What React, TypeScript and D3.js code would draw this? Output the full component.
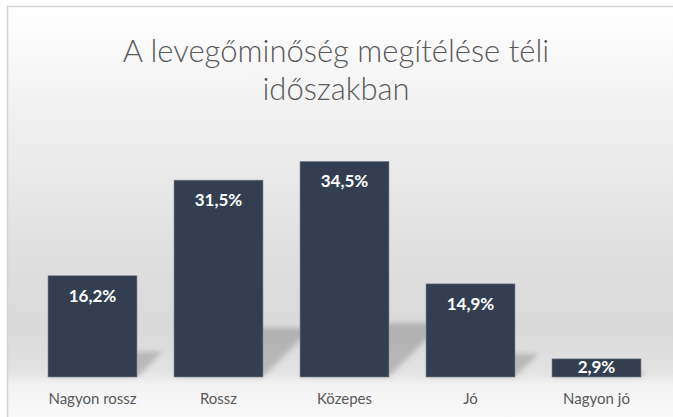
import React from "react";
import * as d3 from "d3";

const categories = ["Nagyon rossz", "Rossz", "Közepes", "Jó", "Nagyon jó"];
const values = [16.2, 31.5, 34.5, 14.9, 2.9];
const valueLabels = ["16,2%", "31,5%", "34,5%", "14,9%", "2,9%"];
const titleLines = ["A levegőminőség megítélése téli", "időszakban"];

const W = 673;
const H = 417;

export default function App() {
  const x = d3
    .scaleBand<string>()
    .domain(categories)
    .range([29.5, 659.5])
    .paddingInner(0.294)
    .paddingOuter(0.147);
  const y = d3.scaleLinear().domain([0, 40]).range([377, 127]);
  const base = y(0);
  const font = "Lato, 'Open Sans', sans-serif";

  return (
    <svg
      width={W}
      height={H}
      style={{ position: "absolute", left: 0, top: 0, display: "block" }}
    >
      <defs>
        <linearGradient id="bg" gradientUnits="userSpaceOnUse" x1="0" y1="6" x2="0" y2="417">
          <stop offset={(6 - 6) / 411} stopColor="#ffffff" />
          <stop offset={(60 - 6) / 411} stopColor="#f8f8f8" />
          <stop offset={(150 - 6) / 411} stopColor="#ececec" />
          <stop offset={(250 - 6) / 411} stopColor="#e0e0e0" />
          <stop offset={(330 - 6) / 411} stopColor="#d9d9d9" />
          <stop offset={(372 - 6) / 411} stopColor="#e3e3e3" />
          <stop offset={(385 - 6) / 411} stopColor="#f3f3f3" />
          <stop offset={1} stopColor="#f9f9f9" />
        </linearGradient>
        <filter id="blur" x="-50%" y="-50%" width="200%" height="200%">
          <feGaussianBlur stdDeviation="2.5" />
        </filter>
      </defs>
      <rect x={0} y={0} width={W} height={H} fill="#ffffff" />
      <rect
        x={7.5}
        y={6.5}
        width={W + 20}
        height={H + 20}
        fill="url(#bg)"
        stroke="#d4d4d4"
        strokeWidth={1.5}
      />
      {titleLines.map((t, i) => (
        <text
          key={t}
          x={336}
          y={62 + i * 38}
          textAnchor="middle"
          fontFamily={font}
          fontWeight={300}
          fontSize={31}
          fill="#595959"
        >
          {t}
        </text>
      ))}
      <g filter="url(#blur)">
        {categories.map((c, i) => {
          const x0 = x(c)!;
          const x1 = x0 + x.bandwidth();
          const hk = (base - y(values[i])) * 0.25;
          const pts = [
            [x0, base],
            [x1, base],
            [x1 + hk, base - hk],
            [x0 + hk, base - hk],
          ]
            .map((p) => p.join(","))
            .join(" ");
          return <polygon key={c} points={pts} fill="#000" fillOpacity={0.18} />;
        })}
      </g>
      {categories.map((c, i) => (
        <rect
          key={c}
          x={x(c)!}
          y={y(values[i])}
          width={x.bandwidth()}
          height={base - y(values[i])}
          fill="#333f50"
          stroke="#7c8490"
          strokeWidth={0.6}
        />
      ))}
      {categories.map((c, i) => (
        <text
          key={c}
          x={x(c)! + x.bandwidth() / 2}
          y={Math.min(y(values[i]) + 26, base - 4)}
          textAnchor="middle"
          fontFamily={font}
          fontWeight={700}
          fontSize={17}
          fill="#ffffff"
        >
          {valueLabels[i]}
        </text>
      ))}
      {categories.map((c) => (
        <text
          key={c}
          x={x(c)! + x.bandwidth() / 2}
          y={404}
          textAnchor="middle"
          fontFamily={font}
          fontSize={15}
          fill="#595959"
        >
          {c}
        </text>
      ))}
    </svg>
  );
}
